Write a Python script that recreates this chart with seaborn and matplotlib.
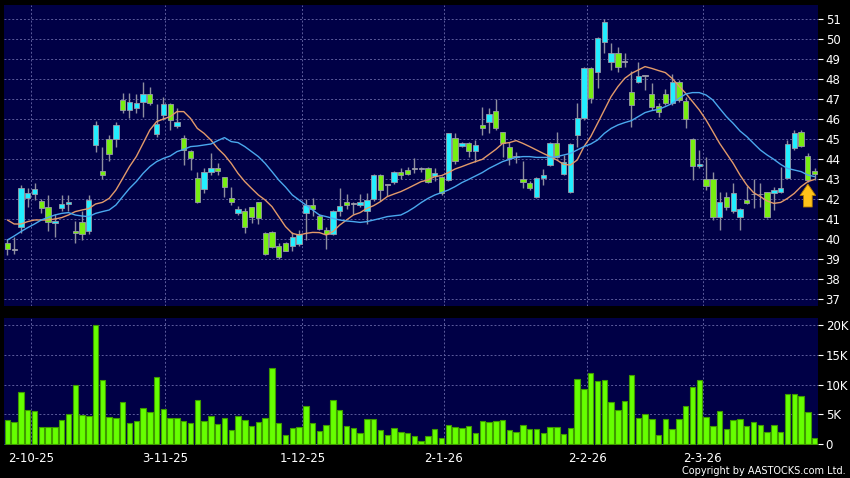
import numpy as np
import pandas as pd
import matplotlib
matplotlib.use("Agg")
import matplotlib.pyplot as plt
import seaborn as sns

# --- daily candles, index 0..119 ---
opens = [39.8, 39.47, 40.58, 42.05, 42.25, 41.9, 41.6, 40.8, 41.55, 41.75,
         40.4, 40.85, 40.42, 44.72, 43.42, 45.0, 45.0, 46.95, 46.45, 46.53,
         46.83, 47.23, 45.25, 46.2, 46.73, 45.65, 45.03, 44.42, 43.03, 42.48,
         43.37, 43.53, 43.08, 42.03, 41.28, 41.42, 41.58, 41.83, 40.28, 40.33,
         39.65, 39.8, 39.67, 39.75, 41.3, 41.7, 41.17, 40.47, 40.25, 41.42,
         41.83, 41.75, 41.7, 41.42, 42.0, 43.2, 42.7, 42.83, 43.33, 43.45,
         43.5, 43.5, 43.57, 43.17, 43.12, 42.95, 45.03, 44.65, 44.82, 44.42,
         45.7, 45.87, 46.4, 45.33, 44.62, 44.1, 43.0, 42.82, 42.08, 43.03,
         43.7, 44.82, 43.25, 42.33, 45.2, 46.03, 48.57, 48.37, 49.83, 48.83,
         49.28, 48.87, 47.37, 47.83, 48.15, 47.23, 46.67, 47.23, 46.78, 47.87,
         46.92, 44.98, 43.65, 43.0, 43.0, 41.12, 42.12, 41.4, 41.12, 41.95,
         42.23, 42.23, 42.33, 42.32, 42.33, 43.07, 44.57, 45.37, 44.17, 43.42]
closes = [39.5, 39.47, 42.55, 42.3, 42.5, 41.55, 40.85, 40.92, 41.75, 41.85,
          40.3, 40.25, 41.95, 45.7, 43.2, 44.25, 45.7, 46.45, 46.83, 46.78,
          47.23, 46.78, 45.73, 46.73, 45.95, 45.87, 44.45, 44.03, 41.87, 43.37,
          43.53, 43.42, 42.62, 41.83, 41.5, 40.58, 41.12, 41.03, 39.25, 39.58,
          39.12, 39.42, 40.12, 40.25, 41.7, 41.5, 40.5, 40.25, 41.38, 41.67,
          41.72, 41.75, 41.83, 41.97, 43.2, 42.45, 42.7, 43.33, 43.2, 43.25,
          43.5, 43.5, 42.87, 43.32, 42.28, 45.28, 43.92, 44.82, 44.42, 44.7,
          45.53, 46.23, 45.53, 44.78, 44.03, 44.1, 42.83, 42.53, 43.03, 43.18,
          44.82, 44.08, 43.83, 44.73, 46.03, 48.57, 47.03, 50.07, 50.83, 49.28,
          48.62, 48.87, 46.7, 48.15, 48.15, 46.62, 46.35, 46.78, 47.87, 46.95,
          45.98, 43.65, 43.73, 42.65, 41.12, 41.83, 41.58, 42.28, 41.48, 41.78,
          42.23, 42.23, 41.12, 42.45, 42.53, 44.73, 45.32, 44.65, 42.95, 43.25]
highs = [40.0, 40.1, 42.7, 42.55, 42.8, 42.0, 42.2, 41.25, 42.2, 42.2,
         40.9, 41.4, 42.2, 45.9, 44.62, 45.2, 45.84, 47.28, 47.28, 47.25,
         47.83, 47.58, 46.75, 47.08, 46.78, 46.53, 45.2, 44.45, 43.37, 43.53,
         44.28, 43.82, 43.08, 42.62, 41.67, 41.53, 41.62, 41.87, 40.37, 40.4,
         39.8, 39.85, 40.33, 40.45, 42.0, 42.05, 41.25, 40.58, 41.45, 42.55,
         42.25, 41.83, 42.25, 42.28, 43.25, 43.25, 42.7, 43.4, 43.55, 43.6,
         44.03, 43.62, 43.62, 43.55, 43.15, 45.32, 45.28, 44.87, 44.87, 44.95,
         46.58, 46.53, 47.0, 45.37, 44.87, 44.37, 43.92, 42.9, 43.12, 43.48,
         44.87, 45.33, 44.2, 44.82, 46.78, 48.62, 48.62, 50.12, 51.0, 49.78,
         49.62, 49.28, 48.42, 48.87, 48.17, 47.78, 46.78, 47.5, 48.25, 47.95,
         47.12, 45.03, 44.45, 44.12, 43.37, 42.37, 42.37, 42.82, 41.53, 42.65,
         43.0, 42.78, 42.37, 42.62, 43.62, 44.95, 45.45, 45.45, 44.28, 43.53]
lows = [39.22, 39.25, 40.3, 41.6, 41.95, 41.3, 40.4, 40.1, 41.4, 41.4,
        39.8, 39.95, 40.25, 44.35, 43.0, 43.9, 44.6, 46.28, 46.03, 46.28,
        46.12, 46.7, 45.12, 45.95, 45.45, 45.53, 43.7, 43.45, 41.78, 42.32,
        43.2, 43.2, 42.12, 41.7, 41.2, 40.28, 40.78, 40.75, 39.2, 39.55,
        39.0, 39.4, 39.42, 39.67, 39.95, 41.15, 40.45, 39.5, 40.2, 41.17,
        41.5, 41.25, 41.6, 40.75, 41.92, 41.92, 42.17, 42.75, 43.0, 43.2,
        43.28, 43.35, 42.78, 42.9, 42.2, 42.88, 43.75, 44.6, 44.12, 43.87,
        45.2, 45.28, 45.45, 44.12, 43.7, 43.8, 42.53, 42.45, 42.03, 42.7,
        43.65, 44.03, 43.2, 42.28, 44.62, 45.95, 46.78, 47.53, 49.28, 48.45,
        48.37, 48.62, 45.62, 47.78, 47.45, 46.45, 46.12, 46.7, 46.7, 46.85,
        45.53, 42.95, 43.53, 42.45, 40.95, 40.45, 41.45, 41.28, 40.45, 41.75,
        41.53, 41.62, 41.03, 41.45, 42.28, 43.03, 44.45, 44.6, 42.87, 42.95]

# moving averages (orange = short, blue = long)
ma_short = [40.95, 40.75, 40.75, 40.87, 40.95, 40.95, 40.95, 41.0, 41.07, 41.2,
            41.37, 41.45, 41.52, 41.75, 41.83, 42.03, 42.45, 43.03, 43.62, 44.12,
            44.78, 45.45, 45.87, 46.0, 46.12, 46.37, 46.37, 46.03, 45.53, 45.28,
            44.95, 44.53, 44.2, 43.78, 43.28, 42.87, 42.53, 42.2, 41.95, 41.62,
            41.12, 40.62, 40.28, 40.2, 40.28, 40.33, 40.32, 40.2, 40.37, 40.7,
            40.95, 41.2, 41.32, 41.53, 41.67, 41.87, 42.12, 42.25, 42.37, 42.53,
            42.7, 42.87, 42.95, 43.12, 43.17, 43.32, 43.5, 43.62, 43.75, 43.87,
            43.98, 44.23, 44.48, 44.78, 44.82, 44.92, 44.78, 44.62, 44.45, 44.28,
            44.12, 43.95, 43.73, 43.7, 43.95, 44.62, 45.12, 45.78, 46.45, 47.12,
            47.62, 48.03, 48.28, 48.45, 48.62, 48.53, 48.42, 48.32, 48.03, 47.65,
            47.28, 46.87, 46.45, 45.95, 45.37, 44.78, 44.28, 43.78, 43.2, 42.7,
            42.32, 42.12, 41.9, 41.78, 41.83, 42.03, 42.28, 42.62, 42.87, 42.98]
ma_long = [39.95, 40.15, 40.37, 40.57, 40.75, 40.95, 41.08, 41.2, 41.28, 41.32,
           41.2, 41.15, 41.12, 41.28, 41.37, 41.45, 41.7, 42.12, 42.53, 42.87,
           43.28, 43.62, 43.87, 44.03, 44.15, 44.37, 44.48, 44.62, 44.65, 44.7,
           44.75, 44.92, 45.07, 44.87, 44.82, 44.62, 44.37, 44.12, 43.78, 43.37,
           42.95, 42.6, 42.2, 41.95, 41.7, 41.45, 41.2, 41.12, 41.03, 40.95,
           40.9, 40.87, 40.83, 40.87, 40.95, 41.03, 41.12, 41.16, 41.2, 41.37,
           41.58, 41.82, 42.03, 42.2, 42.32, 42.45, 42.62, 42.82, 42.98, 43.15,
           43.32, 43.53, 43.7, 43.87, 43.98, 44.08, 44.12, 44.12, 44.08, 44.08,
           44.08, 44.12, 44.2, 44.28, 44.45, 44.62, 44.75, 44.95, 45.28, 45.53,
           45.7, 45.82, 45.92, 46.12, 46.32, 46.42, 46.48, 46.62, 46.78, 47.03,
           47.25, 47.32, 47.32, 47.2, 46.95, 46.53, 46.12, 45.78, 45.4, 45.12,
           44.78, 44.45, 44.2, 43.98, 43.73, 43.53, 43.45, 43.37, 43.2, 43.12]

# volume in thousands
volume_k = [4.1, 3.76, 8.7, 5.67, 5.5, 2.87, 2.8, 2.92, 4.1, 5.0,
            9.94, 4.89, 4.78, 20.0, 10.8, 4.5, 4.33, 7.02, 3.48, 3.88,
            6.07, 5.34, 11.35, 5.9, 4.38, 4.44, 3.88, 3.48, 7.36, 3.82,
            4.66, 3.43, 4.33, 2.3, 4.78, 4.1, 3.03, 3.7, 4.38, 12.75,
            3.54, 1.46, 2.64, 2.8, 6.4, 3.6, 2.25, 3.26, 7.36, 5.67,
            3.03, 2.64, 1.8, 4.16, 4.16, 2.36, 1.46, 2.64, 2.08, 1.8,
            1.35, 0.45, 1.29, 2.47, 1.0, 3.2, 2.8, 2.7, 3.09, 1.9,
            3.93, 3.7, 3.88, 4.04, 2.3, 2.08, 3.2, 2.47, 2.47, 1.85,
            2.8, 2.8, 1.74, 2.64, 11.0, 9.33, 12.0, 10.56, 10.8, 7.02,
            5.79, 7.19, 11.7, 4.44, 5.0, 4.21, 1.46, 4.16, 2.58, 4.21,
            6.4, 9.66, 10.8, 4.5, 3.09, 5.56, 2.47, 4.1, 4.27, 3.03,
            3.65, 3.2, 1.97, 3.26, 2.08, 8.48, 8.48, 8.03, 5.45, 0.96]

date_ticks = [3.5, 23.3, 43.5, 64.3, 85.5, 102.5]
date_labels = ["2-10-25", "3-11-25", "1-12-25", "2-1-26", "2-2-26", "2-3-26"]
price_ticks = list(range(37, 52))
vol_ticks = [0, 5, 10, 15, 20]
vol_labels = ["0", "5K", "10K", "15K", "20K"]
signal_idx, signal_price = 118, 42.75

df = pd.DataFrame({"open": opens, "high": highs, "low": lows, "close": closes,
                   "ma_s": ma_short, "ma_l": ma_long, "vol": volume_k})
df["i"] = np.arange(len(df))

BG = "#000046"
GRID = "#5c5c9c"
UP = "#22eeff"
DOWN = "#77ee11"
FLAT = "#b0b0b0"

sns.set_style("dark")
plt.rcParams["font.family"] = ["DejaVu Sans"]

fig = plt.figure(figsize=(8.5, 4.78), dpi=100, facecolor="black")
ax = fig.add_axes([4 / 850, 1 - 306 / 478, 814 / 850, 301 / 478])
axv = fig.add_axes([4 / 850, 1 - 445 / 478, 814 / 850, 127 / 478])

for a in (ax, axv):
    a.set_facecolor(BG)
    for s in a.spines.values():
        s.set_visible(False)
    a.grid(True, color=GRID, linestyle=(0, (2, 2)), linewidth=0.7)
    a.set_axisbelow(True)
    a.yaxis.tick_right()
    a.tick_params(axis="y", colors="white", labelsize=8.5, length=3.5, width=0.8, pad=2)
    a.set_xlim(-0.5, len(df) - 0.5)
    a.set_xticks(date_ticks)

# --- candles ---
col = np.where(df.close > df.open, UP, np.where(df.close < df.open, DOWN, FLAT))
ax.vlines(df.i, df.low, df.high, color="#8e8e9e", linewidth=1, zorder=2)
body = np.maximum((df.close - df.open).abs(), 0.04)
ax.bar(df.i, body, bottom=np.minimum(df.open, df.close), width=0.78,
       color=col, edgecolor="#9a9aa8", linewidth=0.6, zorder=3)

sns.lineplot(data=df, x="i", y="ma_s", ax=ax, color="#e39a6a", linewidth=1, zorder=4)
sns.lineplot(data=df, x="i", y="ma_l", ax=ax, color="#4aa8ee", linewidth=1, zorder=4)

# buy-signal arrow under the latest candle
ax.annotate("", xy=(signal_idx, signal_price), xytext=(signal_idx, signal_price - 1.15),
            arrowprops=dict(arrowstyle="simple,head_length=0.55,head_width=0.75,tail_width=0.42",
                            fc="#ffc21a", ec="#b07a00", lw=0.6, mutation_scale=15,
                            shrinkA=0, shrinkB=0), zorder=6)

ax.set_ylim(36.65, 51.7)
ax.set_yticks(price_ticks)
ax.set_xticklabels([])
ax.tick_params(axis="x", length=0)
ax.set_xlabel("")
ax.set_ylabel("")

# --- volume ---
sns.barplot(data=df, x="i", y="vol", ax=axv, native_scale=True, color="#66ff00",
            saturation=1, width=0.8, edgecolor="#3f9a00", linewidth=0.8, zorder=3)
axv.set_xlim(-0.5, len(df) - 0.5)
axv.set_ylim(-0.15, 21.2)
axv.set_yticks(vol_ticks)
axv.set_yticklabels(vol_labels)
axv.set_xticks(date_ticks)
axv.set_xticklabels(date_labels)
axv.tick_params(axis="x", colors="white", labelsize=8.5, length=3, width=0.8, pad=2)
axv.set_xlabel("")
axv.set_ylabel("")

fig.text(0.995, 1 - 471 / 478, "Copyright by AASTOCKS.com Ltd.", color="white",
         fontsize=7, ha="right", va="center")

fig.savefig("out.png", dpi=100, facecolor="black")
